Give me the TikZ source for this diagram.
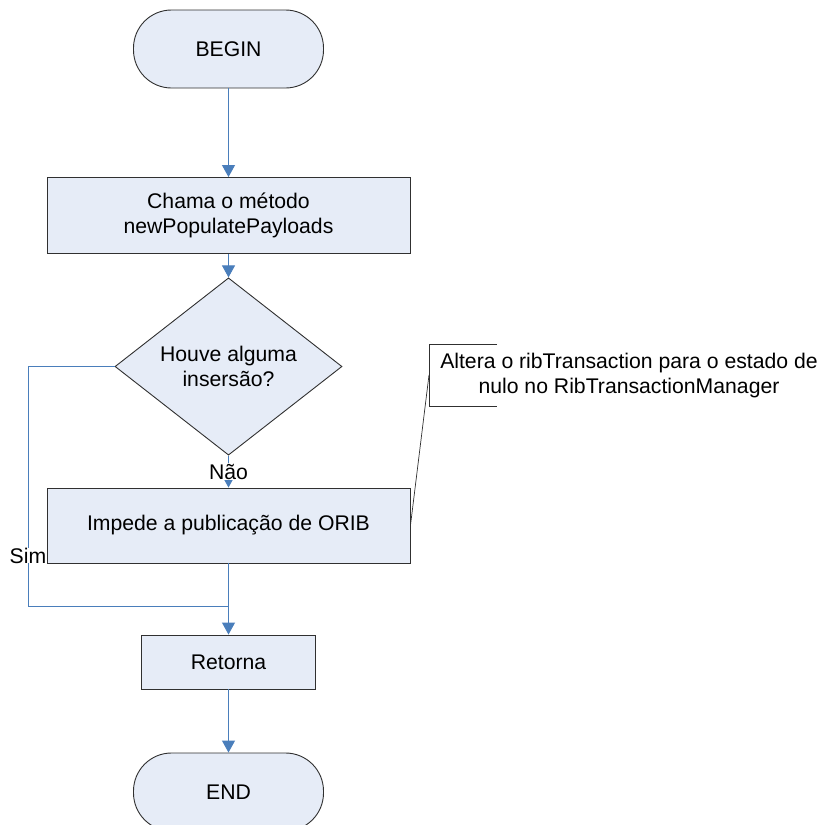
\documentclass[tikz,border=0pt]{standalone}
\usepackage{fontspec}
\setmainfont{Liberation Sans}
\usetikzlibrary{shapes.geometric,arrows.meta}
\definecolor{flowblue}{HTML}{4A7EBB}
\definecolor{boxfill}{HTML}{E6ECF7}
\definecolor{boxline}{HTML}{303030}
\begin{document}
\begin{tikzpicture}[x=1pt,y=-1pt,
  every node/.style={font=\fontsize{21.2}{25}\selectfont, text=black},
  terminal/.style={draw=boxline, fill=boxfill, line width=0.9pt, rectangle,
    rounded corners=38pt, minimum width=190pt, minimum height=78pt, inner sep=0pt},
  process/.style={draw=boxline, fill=boxfill, line width=0.9pt, rectangle,
    align=center, inner sep=0pt},
  decision/.style={draw=boxline, fill=boxfill, line width=0.9pt, diamond,
    align=center, inner sep=0pt, minimum width=227pt, minimum height=135pt},
  flow/.style={draw=flowblue, line width=1pt},
  flowarrow/.style={flow, -{Triangle[width=13pt,length=12pt]}, color=flowblue},
  lbl/.style={fill=white, inner sep=1pt}
]
\useasboundingbox (0,0) rectangle (825,825);

% shapes
\node[terminal] (begin) at (228.5,49) {BEGIN};
\node[process, minimum width=363pt, minimum height=76pt] (call) at (228.5,215.5)
  {Chama o método\\newPopulatePayloads};
\node[decision] (dec) at (228.5,366.5) {Houve alguma\\insersão?};
\node[process, minimum width=363pt, minimum height=75pt] (block) at (228.5,525.5)
  {Impede a publicação de ORIB};
\node[process, minimum width=174pt, minimum height=54pt] (ret) at (228.5,662) {Retorna};
\node[terminal] (endn) at (228.5,792) {END};

% annotation
\node[align=center] (note) at (629,376)
  {Altera o ribTransaction para o estado de\\nulo no RibTransactionManager};
\coordinate (bt) at (497,344);
\coordinate (bb) at (497,406);
\coordinate (bm) at (429,375);
\draw[line width=0.7pt, boxline] (bt) -- (bt -| bm) -- (bb -| bm) -- (bb);
\draw[line width=0.7pt, boxline] (block.east) -- (bm);

% connectors
\draw[flowarrow] (begin) -- (call);
\draw[flowarrow] (call) -- (dec);
\draw[flowarrow] (dec.south) -- node[lbl, pos=0.5] {Não} (block.north);
\coordinate (sj) at (28,606);
\coordinate (mj) at (228.5,606);
\draw[flow] (dec.west) -- (dec.west -| sj) -- node[lbl, pos=0.79, inner sep=0pt] {Sim} (sj) -- (mj);
\draw[flowarrow] (block.south) -- (ret.north);
\draw[flowarrow] (ret.south) -- (endn.north);
\end{tikzpicture}
\end{document}
